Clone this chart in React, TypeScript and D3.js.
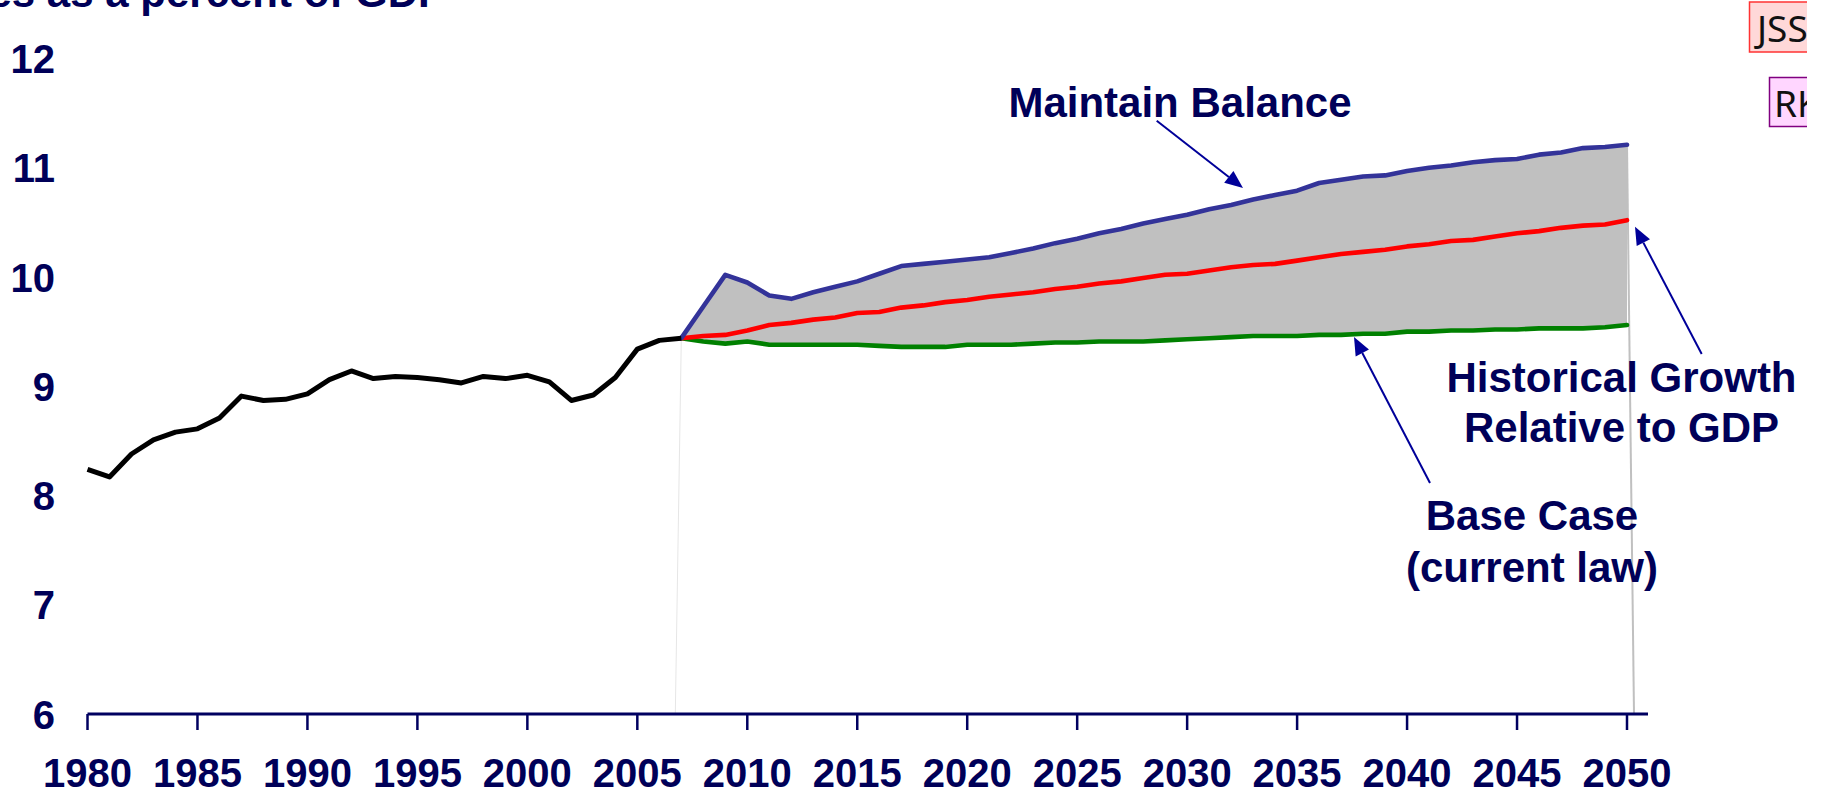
import React from "react";
import * as d3 from "d3";

const histYears = d3.range(1980, 2008);
const histValues = [8.24, 8.17, 8.38, 8.51, 8.58, 8.61, 8.71, 8.91, 8.87, 8.88, 8.93, 9.06, 9.14, 9.07, 9.09, 9.08, 9.06, 9.03, 9.09, 9.07, 9.1, 9.04, 8.87, 8.92, 9.08, 9.34, 9.42, 9.44];

const projYears = d3.range(2007, 2051);
const maintainBalance = [9.44, 9.73, 10.02, 9.95, 9.83, 9.8, 9.86, 9.91, 9.96, 10.03, 10.1, 10.12, 10.14, 10.16, 10.18, 10.22, 10.26, 10.31, 10.35, 10.4, 10.44, 10.49, 10.53, 10.57, 10.62, 10.66, 10.71, 10.75, 10.79, 10.86, 10.89, 10.92, 10.93, 10.97, 11.0, 11.02, 11.05, 11.07, 11.08, 11.12, 11.14, 11.18, 11.19, 11.21];
const historicalGrowth = [9.44, 9.46, 9.47, 9.51, 9.56, 9.58, 9.61, 9.63, 9.67, 9.68, 9.72, 9.74, 9.77, 9.79, 9.82, 9.84, 9.86, 9.89, 9.91, 9.94, 9.96, 9.99, 10.02, 10.03, 10.06, 10.09, 10.11, 10.12, 10.15, 10.18, 10.21, 10.23, 10.25, 10.28, 10.3, 10.33, 10.34, 10.37, 10.4, 10.42, 10.45, 10.47, 10.48, 10.52];
const baseCase = [9.44, 9.41, 9.39, 9.41, 9.38, 9.38, 9.38, 9.38, 9.38, 9.37, 9.36, 9.36, 9.36, 9.38, 9.38, 9.38, 9.39, 9.4, 9.4, 9.41, 9.41, 9.41, 9.42, 9.43, 9.44, 9.45, 9.46, 9.46, 9.46, 9.47, 9.47, 9.48, 9.48, 9.5, 9.5, 9.51, 9.51, 9.52, 9.52, 9.53, 9.53, 9.53, 9.54, 9.56];

const xTicks = d3.range(1980, 2051, 5);
const yTicks = [6, 7, 8, 9, 10, 11, 12];

const TEXT = "#000058";
const ARROW = "#000099";
const FONT = "'Liberation Sans', Arial, sans-serif";

export default function App() {
  const x = d3.scaleLinear().domain([1980, 2050]).range([87.5, 1627]);
  const y = d3.scaleLinear().domain([6, 12]).range([714, 58.5]);

  const histLine = d3.line<number>().x((_, i) => x(histYears[i])).y((d) => y(d))(histValues) || "";
  const projLine = (vals: number[]) => d3.line<number>().x((_, i) => x(projYears[i])).y((d) => y(d))(vals) || "";
  const band = d3
    .area<number>()
    .x((_, i) => x(projYears[i]))
    .y0((_, i) => y(baseCase[i]))
    .y1((d) => y(d))(maintainBalance) || "";

  const arrow = (x1: number, y1: number, x2: number, y2: number) => {
    const ang = Math.atan2(y2 - y1, x2 - x1);
    const L = 18, W = 7.5;
    const bx = x2 - L * Math.cos(ang), by = y2 - L * Math.sin(ang);
    const px = -Math.sin(ang) * W, py = Math.cos(ang) * W;
    return (
      <g>
        <line x1={x1} y1={y1} x2={bx} y2={by} stroke={ARROW} strokeWidth={2} />
        <polygon points={`${x2},${y2} ${bx + px},${by + py} ${bx - px},${by - py}`} fill={ARROW} />
      </g>
    );
  };

  const last = projYears.length - 1;

  return (
    <svg width={1826} height={796} style={{ position: "fixed", left: 0, top: 0, background: "#fff" }}>
      <defs>
        <clipPath id="rightclip">
          <rect x={0} y={0} width={1807} height={796} />
        </clipPath>
      </defs>
      <rect x={0} y={0} width={1826} height={796} fill="#fff" />

      {/* faint edges of the band */}
      <line x1={x(2007)} y1={y(baseCase[0])} x2={x(2007) - 6} y2={y(6)} stroke="#e6e6e6" strokeWidth={1} />
      <line x1={x(2050)} y1={y(maintainBalance[last])} x2={x(2050) + 7} y2={y(6)} stroke="#c0c0c0" strokeWidth={2} />

      <path d={band} fill="#c0c0c0" />
      <path d={projLine(baseCase)} fill="none" stroke="#008000" strokeWidth={4.6} strokeLinejoin="round" strokeLinecap="round" />
      <path d={projLine(historicalGrowth)} fill="none" stroke="#ff0000" strokeWidth={4.6} strokeLinejoin="round" strokeLinecap="round" />
      <path d={projLine(maintainBalance)} fill="none" stroke="#333399" strokeWidth={4.6} strokeLinejoin="round" strokeLinecap="round" />
      <path d={histLine} fill="none" stroke="#000" strokeWidth={5} strokeLinejoin="round" />

      {/* x axis */}
      <line x1={x(1980)} y1={y(6)} x2={1648} y2={y(6)} stroke="#000060" strokeWidth={3} />
      {xTicks.map((t) => (
        <g key={t}>
          <line x1={x(t)} y1={y(6)} x2={x(t)} y2={y(6) + 16} stroke="#000060" strokeWidth={2.5} />
          <text x={x(t)} y={787} textAnchor="middle" fontFamily={FONT} fontWeight="bold" fontSize={40} fill={TEXT}>
            {t}
          </text>
        </g>
      ))}

      {/* y labels */}
      {yTicks.map((t) => (
        <text key={t} x={55} y={y(t) + 14.5} textAnchor="end" fontFamily={FONT} fontWeight="bold" fontSize={40} fill={TEXT}>
          {t}
        </text>
      ))}

      {/* title (cropped at top, as in the reference) */}
      <text x={446} y={6.5} textAnchor="end" fontFamily={FONT} fontWeight="bold" fontSize={42} fill={TEXT}>
        Expenditures as a percent of GDP
      </text>

      {/* annotations */}
      <text x={1180} y={116.7} textAnchor="middle" fontFamily={FONT} fontWeight="bold" fontSize={42} fill={TEXT}>
        Maintain Balance
      </text>
      {arrow(1156.7, 120.7, 1243, 188)}

      <text x={1621.5} y={391.7} textAnchor="middle" fontFamily={FONT} fontWeight="bold" fontSize={42} fill={TEXT}>
        Historical Growth
      </text>
      <text x={1621.5} y={441.7} textAnchor="middle" fontFamily={FONT} fontWeight="bold" fontSize={42} fill={TEXT}>
        Relative to GDP
      </text>
      {arrow(1701.7, 354, 1635, 226.7)}

      <text x={1532} y={530} textAnchor="middle" fontFamily={FONT} fontWeight="bold" fontSize={42} fill={TEXT}>
        Base Case
      </text>
      <text x={1532} y={582} textAnchor="middle" fontFamily={FONT} fontWeight="bold" fontSize={42} fill={TEXT}>
        (current law)
      </text>
      {arrow(1430, 483, 1354, 337)}

      {/* reviewer tags */}
      <g clipPath="url(#rightclip)">
        <rect x={1749.5} y={2} width={80} height={50} fill="#ffd8d8" stroke="#ff3333" strokeWidth={1.5} />
        <text x={1757} y={41.7} fontFamily="'Noto Sans', sans-serif" fontSize={37} fill="#111">
          JSS
        </text>
        <rect x={1769.5} y={77.5} width={60} height={49} fill="#ffd6ff" stroke="#800080" strokeWidth={1.5} />
        <text x={1774} y={116.7} fontFamily="'Noto Sans', sans-serif" fontSize={37} fill="#111">
          RK
        </text>
      </g>
    </svg>
  );
}
